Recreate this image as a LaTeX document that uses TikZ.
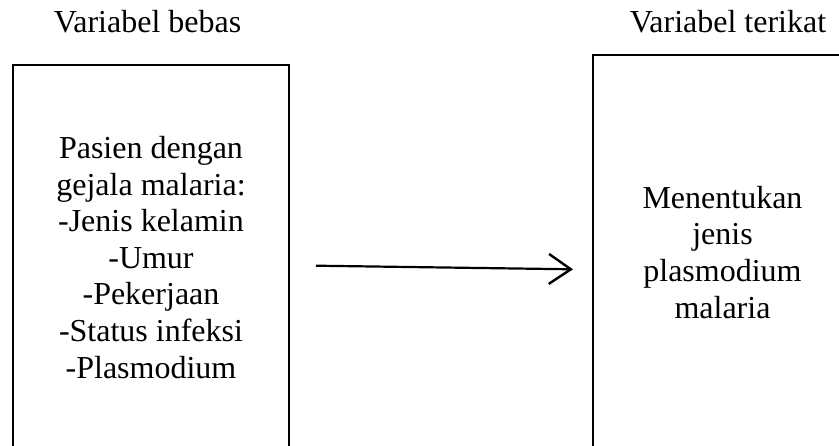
\documentclass[tikz,border=0pt]{standalone}
\usepackage{fontspec}
\setmainfont{Liberation Serif}
\usetikzlibrary{arrows.meta}
\tikzset{
  openbox/.style={draw=black, line width=2pt, fill=none},
  label/.style={font=\fontsize{32pt}{36.6pt}\selectfont, inner sep=0pt, anchor=base},
  boxtext/.style={font=\fontsize{32pt}{36.6pt}\selectfont, inner sep=0pt, align=center, anchor=base},
  link/.style={line width=2.2pt, -{Straight Barb[length=22pt,width=30pt,line width=2.4pt]}}
}
\begin{document}
\begin{tikzpicture}[x=1pt,y=-1pt]
\useasboundingbox (0,0) rectangle (839,445);
\clip (0,0) rectangle (839,445);
\path[openbox] (13,65) rectangle (289,470);
\path[openbox] (593,55) rectangle (870,470);
\node[label] (hb) at (147.5,32) {Variabel bebas};
\node[label] (ht) at (728,32) {Variabel terikat};
\node[boxtext] (lt) at (151,378) {Pasien dengan\\gejala malaria:\\-Jenis kelamin\\-Umur\\-Pekerjaan\\-Status infeksi\\-Plasmodium};
\node[boxtext] (rt) at (722.5,318) {Menentukan\\jenis\\plasmodium\\malaria};
\coordinate (a1) at (316,265.7);
\coordinate (a2) at (573,269.3);
\draw[link] (a1) -- (a2);
\end{tikzpicture}
\end{document}
